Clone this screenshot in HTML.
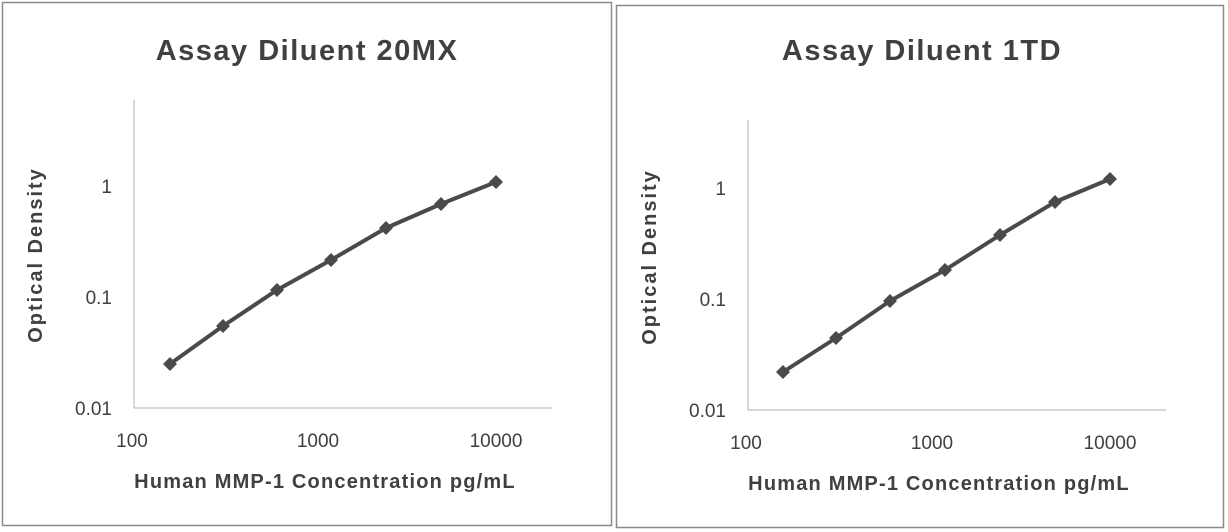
<!DOCTYPE html>
<html><head><meta charset="utf-8"><style>
html,body{margin:0;padding:0;background:#fff;}
svg{display:block;}
text{font-family:"Liberation Sans",sans-serif;fill:#404040;}
</style></head><body>
<svg width="1228" height="532" viewBox="0 0 1228 532" xmlns="http://www.w3.org/2000/svg">
<rect x="0" y="0" width="1228" height="532" fill="#fff"/>
<rect x="2.5" y="2.5" width="609" height="523" fill="none" stroke="#8a8a8a" stroke-width="1.5"/>
<rect x="616.5" y="5.5" width="607" height="522" fill="none" stroke="#8a8a8a" stroke-width="1.5"/>

<!-- Left chart -->
<text x="307" y="60" text-anchor="middle" font-size="29" font-weight="bold" letter-spacing="1.5">Assay Diluent 20MX</text>
<line x1="134" y1="100" x2="134" y2="408" stroke="#bfbfbf" stroke-width="1.2"/>
<line x1="134" y1="408" x2="552" y2="408" stroke="#bfbfbf" stroke-width="1.2"/>
<g font-size="19" text-anchor="end">
<text x="112" y="193">1</text>
<text x="112" y="304">0.1</text>
<text x="112" y="415">0.01</text>
</g>
<g font-size="19" text-anchor="middle">
<text x="132" y="447">100</text>
<text x="318" y="447">1000</text>
<text x="496" y="447">10000</text>
</g>
<text x="325" y="488" text-anchor="middle" font-size="20" font-weight="bold" letter-spacing="1.2">Human MMP-1 Concentration pg/mL</text>
<text transform="translate(42,255) rotate(-90)" text-anchor="middle" font-size="20" font-weight="bold" letter-spacing="2">Optical Density</text>
<polyline points="170,364 223,326 277,290 331,260 386,228 441,204 496,182" fill="none" stroke="#4a4a4a" stroke-width="4" stroke-linejoin="round"/>
<g fill="#4a4a4a">
<path d="M170,357l7,7l-7,7l-7,-7z"/><path d="M223,319l7,7l-7,7l-7,-7z"/><path d="M277,283l7,7l-7,7l-7,-7z"/><path d="M331,253l7,7l-7,7l-7,-7z"/><path d="M386,221l7,7l-7,7l-7,-7z"/><path d="M441,197l7,7l-7,7l-7,-7z"/><path d="M496,175l7,7l-7,7l-7,-7z"/>
</g>

<!-- Right chart -->
<text x="922" y="60" text-anchor="middle" font-size="29" font-weight="bold" letter-spacing="1.5">Assay Diluent 1TD</text>
<line x1="748" y1="120" x2="748" y2="410" stroke="#bfbfbf" stroke-width="1.2"/>
<line x1="748" y1="410" x2="1166" y2="410" stroke="#bfbfbf" stroke-width="1.2"/>
<g font-size="19" text-anchor="end">
<text x="726" y="195">1</text>
<text x="726" y="306">0.1</text>
<text x="726" y="417">0.01</text>
</g>
<g font-size="19" text-anchor="middle">
<text x="746" y="449">100</text>
<text x="932" y="449">1000</text>
<text x="1110" y="449">10000</text>
</g>
<text x="939" y="490" text-anchor="middle" font-size="20" font-weight="bold" letter-spacing="1.2">Human MMP-1 Concentration pg/mL</text>
<text transform="translate(656,257) rotate(-90)" text-anchor="middle" font-size="20" font-weight="bold" letter-spacing="2">Optical Density</text>
<polyline points="783,372 836,338 890,301 945,270 1000,235 1055,202 1110,179" fill="none" stroke="#4a4a4a" stroke-width="4" stroke-linejoin="round"/>
<g fill="#4a4a4a">
<path d="M783,365l7,7l-7,7l-7,-7z"/><path d="M836,331l7,7l-7,7l-7,-7z"/><path d="M890,294l7,7l-7,7l-7,-7z"/><path d="M945,263l7,7l-7,7l-7,-7z"/><path d="M1000,228l7,7l-7,7l-7,-7z"/><path d="M1055,195l7,7l-7,7l-7,-7z"/><path d="M1110,172l7,7l-7,7l-7,-7z"/>
</g>
</svg>
</body></html>
